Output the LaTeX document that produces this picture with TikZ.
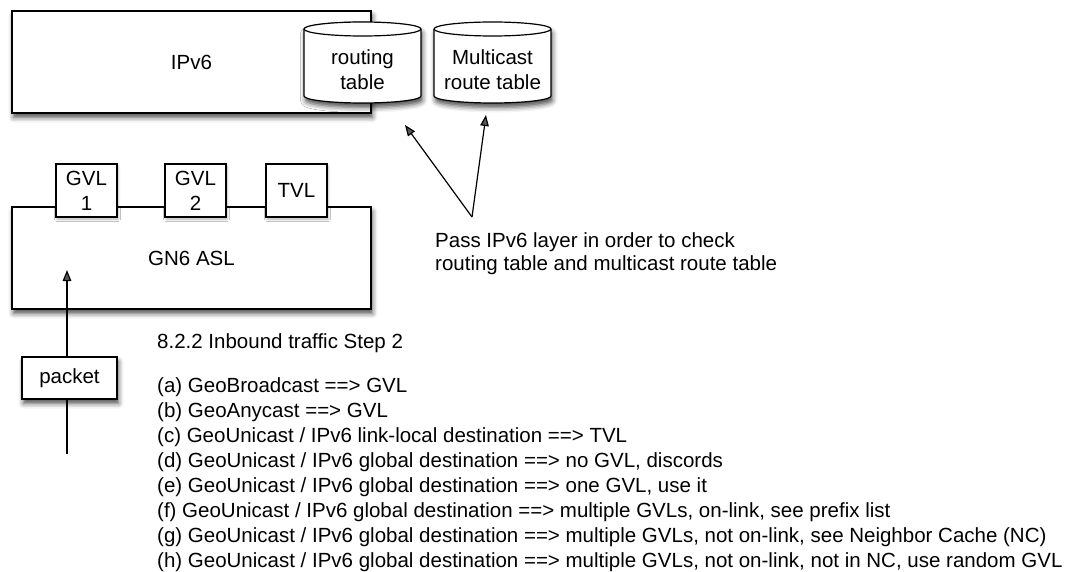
\documentclass[tikz,border=0pt]{standalone}
\usepackage{fontspec}
\setmainfont{Liberation Sans}
\usetikzlibrary{arrows.meta,shadows.blur}
\newcommand\cylout[1]{%
  \draw[cylpath] (#1-58.5,29) -- (#1-58.5,96)
    arc[start angle=180,end angle=360,x radius=58.5pt,y radius=7pt]
    -- (#1+58.5,29)
    arc[start angle=0,end angle=180,x radius=58.5pt,y radius=7pt] -- cycle;
  \draw[line width=1.2pt] (#1-58.5,29)
    arc[start angle=180,end angle=360,x radius=58.5pt,y radius=7pt];}
\begin{document}
\begin{tikzpicture}[x=1pt,y=-1pt,
  every node/.style={font=\fontsize{20.5}{25}\selectfont, inner sep=0pt},
  shad/.style={blur shadow={shadow xshift=1.5pt,shadow yshift=-4.5pt,shadow blur radius=5pt,shadow opacity=70}},
  smallshad/.style={blur shadow={shadow xshift=1pt,shadow yshift=-2pt,shadow blur radius=2.5pt,shadow opacity=30}},
  box/.style={draw, line width=1.2pt, fill=white, shad},
  vlbox/.style={draw, line width=1.2pt, fill=white, smallshad, minimum width=61pt, minimum height=53pt, align=center},
  cylpath/.style={line width=1.2pt, fill=white, shad},
  cyltext/.style={align=center},
  conn/.style={line width=1.2pt, -{Triangle[length=11pt,width=8.5pt]}},
  plain/.style={line width=1.2pt},
  txt/.style={anchor=base west}
]
\useasboundingbox (0,0) rectangle (1078,572);
% IPv6 layer
\node[box, minimum width=359pt, minimum height=102pt] (ipv6) at (191.5,62) {IPv6};
\cylout{362.5}
\node[cyltext] (rt) at (362.5,69.5) {routing\\table};
\cylout{492.5}
\node[cyltext] (mc) at (492.5,69.5) {Multicast\\route table};
% GN6 ASL
\node[box, minimum width=359pt, minimum height=102pt] (asl) at (191.5,258) {GN6 ASL};
\node[vlbox] (gvl1) at (86.5,190.5) {GVL\\1};
\node[vlbox] (gvl2) at (195.5,190.5) {GVL\\2};
\node[vlbox] (tvl) at (296.5,190.5) {TVL};
% packet
\node[box, minimum width=95pt, minimum height=42pt] (pkt) at (69.5,378) {packet};
\coordinate (pin) at (67,454);
\coordinate (ptip) at (67,270);
\draw[plain] (pin) -- (pin |- pkt.south);
\draw[conn] (pin |- pkt.north) -- (ptip);
% pass note
\node[txt] (pass1) at (435,247) {Pass IPv6 layer in order to check};
\node[txt] (pass2) at (435,270) {routing table and multicast route table};
\coordinate (pp) at (472,217);
\coordinate (rtip) at (405,125);
\coordinate (mtip) at (486,115);
\draw[conn] (pp) -- (rtip);
\draw[conn] (pp) -- (mtip);
% list
\node[txt] (title) at (157,348) {8.2.2 Inbound traffic Step 2};
\node[txt] (la) at (157,392) {(a) GeoBroadcast ==> GVL};
\node[txt] (lb) at (157,417) {(b) GeoAnycast ==> GVL};
\node[txt] (lc) at (157,442) {(c) GeoUnicast / IPv6 link-local destination ==> TVL};
\node[txt] (ld) at (157,467) {(d) GeoUnicast / IPv6 global destination ==> no GVL, discords};
\node[txt] (le) at (157,492) {(e) GeoUnicast / IPv6 global destination ==> one GVL, use it};
\node[txt] (lf) at (157,517) {(f) GeoUnicast / IPv6 global destination ==> multiple GVLs, on-link, see prefix list};
\node[txt] (lg) at (157,542) {(g) GeoUnicast / IPv6 global destination ==> multiple GVLs, not on-link, see Neighbor Cache (NC)};
\node[txt] (lh) at (157,567) {(h) GeoUnicast / IPv6 global destination ==> multiple GVLs, not on-link, not in NC, use random GVL};
\end{tikzpicture}
\end{document}
